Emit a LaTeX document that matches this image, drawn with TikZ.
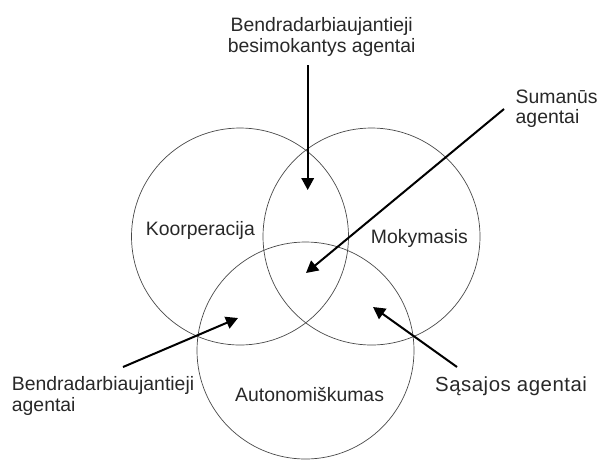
\documentclass[tikz,border=0pt]{standalone}
\usepackage{fontspec}
\setmainfont{Liberation Sans}
\usetikzlibrary{arrows.meta}
\definecolor{ink}{RGB}{40,40,40}
\begin{document}
\begin{tikzpicture}[x=1pt,y=-1pt,
  ring/.style={draw=ink!85, line width=0.7pt},
  lbl/.style={inner sep=0pt, text=ink, font=\fontsize{19.4}{20.5}\selectfont},
  pointer/.style={draw=black, line width=2pt, -{Triangle[length=12pt,width=12.5pt]}}]
  \useasboundingbox (0,0) rectangle (599,459);

  % three overlapping sets
  \draw[ring] (240,236.5) circle (108.5);
  \draw[ring] (371.5,236.5) circle (108.5);
  \draw[ring] (305.5,350.5) circle (108.5);

  % set names
  \node[lbl, anchor=base west] (koop) at (145.7,235) {Koorperacija};
  \node[lbl, anchor=base west] (moky) at (370.7,243.3) {Mokymasis};
  \node[lbl, anchor=base west] (auto) at (235,401.7) {Autonomiškumas};

  % outer labels
  \node[lbl, anchor=north, align=center] (bba) at (321.7,17.3)
    {Bendradarbiaujantieji\\besimokantys agentai};
  \node[lbl, anchor=north west, align=left] (suma) at (515.5,89.6)
    {Sumanūs\\agentai};
  \node[lbl, anchor=north west, align=left] (bag) at (11.7,376.3)
    {Bendradarbiaujantieji\\agentai};
  \node[lbl, anchor=base west] (sas) at (435,391)
    {\fontsize{20.4}{22}\selectfont\addfontfeatures{LetterSpace=2.5}Sąsajos agentai};

  % arrow ends
  \coordinate (t1) at (307.7,65);   \coordinate (h1) at (307.7,190);
  \coordinate (t2) at (504,109);    \coordinate (h2) at (306,273);
  \coordinate (t3) at (123,367);    \coordinate (h3) at (238,318);
  \coordinate (t4) at (457,367);    \coordinate (h4) at (373,307);

  \draw[pointer] (t1) -- (h1);
  \draw[pointer] (t2) -- (h2);
  \draw[pointer] (t3) -- (h3);
  \draw[pointer] (t4) -- (h4);
\end{tikzpicture}
\end{document}
